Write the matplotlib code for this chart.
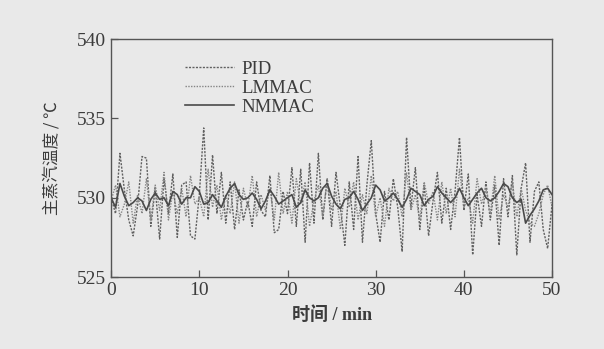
import numpy as np
import matplotlib
matplotlib.use("Agg")
import matplotlib.pyplot as plt

# 主蒸汽温度, 每 0.5 min 一个点
pid = [530.0, 529.0, 532.8, 530.5, 528.6, 527.6, 529.5, 532.6, 532.5, 528.2,
       530.6, 527.4, 531.2, 529.0, 531.5, 527.5, 530.8, 531.0, 527.6, 527.4,
       530.2, 534.4, 528.6, 532.7, 529.0, 531.6, 528.4, 531.0, 528.0, 530.5,
       528.6, 529.8, 528.2, 531.0, 529.2, 528.8, 531.4, 527.8, 528.0, 530.4,
       529.0, 531.9, 528.2, 531.8, 527.2, 532.2, 528.4, 532.8, 528.6, 531.2,
       528.2, 531.6, 529.4, 527.0, 531.0, 528.0, 532.6, 527.2, 530.8, 533.6,
       529.0, 527.2, 530.4, 528.6, 531.2, 529.4, 526.6, 533.8, 529.4, 531.9,
       528.0, 530.8, 527.6, 529.8, 531.6, 528.4, 530.6, 528.0, 530.4, 533.8,
       529.2, 531.5, 526.4, 530.2, 528.2, 531.0, 528.6, 530.8, 527.0, 531.2,
       528.8, 531.4, 526.4, 530.6, 532.2, 527.2, 530.4, 531.0, 528.0, 526.8,
       529.6]
lmmac = [529.8, 530.8, 528.8, 529.6, 531.0, 528.4, 530.2, 529.0, 531.2, 528.6,
         530.8, 529.2, 531.6, 528.6, 530.4, 529.0, 530.6, 528.8, 531.4, 529.6,
         530.0, 528.8, 531.8, 529.4, 530.8, 528.6, 530.2, 529.0, 531.0, 528.4,
         530.6, 529.4, 531.4, 528.8, 530.2, 529.2, 530.6, 528.6, 531.6, 529.0,
         530.4, 528.4, 531.2, 529.6, 531.0, 528.2, 529.8, 530.8, 528.8, 531.2,
         529.2, 530.4, 528.0, 530.6, 529.4, 531.0, 528.6, 530.2, 529.0, 531.4,
         528.8, 530.0, 528.2, 530.6, 529.8, 530.4, 528.8, 531.6, 529.2, 530.2,
         528.6, 531.0, 529.6, 530.4, 528.6, 531.0, 529.0, 530.6, 528.8, 531.8,
         529.4, 530.0, 528.4, 531.2, 529.6, 530.6, 529.0, 531.4, 528.6, 530.2,
         529.4, 531.0, 528.8, 530.6, 529.2, 528.4, 528.2, 529.0, 530.2, 530.8,
         529.4]
nmmac = [530.0, 529.4, 530.9, 530.1, 529.5, 529.7, 530.0, 529.8, 529.2, 529.9,
         530.3, 529.9, 530.0, 529.5, 530.4, 530.2, 529.6, 530.0, 530.0, 530.7,
         530.4, 529.6, 529.7, 530.2, 529.8, 529.4, 530.1, 530.6, 530.9, 530.2,
         529.9, 530.0, 530.3, 529.9, 529.3, 529.8, 530.5, 530.1, 529.6, 529.8,
         530.0, 530.2, 529.4, 529.7, 530.5, 530.0, 529.8, 530.0, 530.6, 530.9,
         530.1, 529.6, 529.3, 529.9, 530.0, 530.4, 529.9, 529.2, 529.6, 530.0,
         530.8, 530.5, 529.8, 530.0, 530.3, 529.9, 529.4, 529.9, 530.6, 530.4,
         530.2, 529.5, 529.9, 530.1, 530.7, 530.3, 530.0, 529.7, 530.0, 530.6,
         530.0, 529.5, 529.9, 530.3, 530.6, 530.0, 529.8, 530.0, 530.4, 530.9,
         530.7, 530.0, 529.7, 529.9, 528.4, 528.9, 529.3, 529.8, 530.5, 530.6,
         530.2]
xticks = [0, 10, 20, 30, 40, 50]
yticks = [525, 530, 535, 540]

t = np.linspace(0, 50, len(pid))

bg = "#e9e9e9"
ink = "#3c3c3c"
fig = plt.figure(figsize=(6.04, 3.49), dpi=100, facecolor=bg)
ax = fig.add_axes([0.184, 0.206, 0.73, 0.682], facecolor=bg)

ax.plot(t, pid, color="#606060", lw=1.0, ls=(0, (1.5, 1)), label="PID")
ax.plot(t, lmmac, color="#858585", lw=1.0, ls=(0, (1, 1)), label="LMMAC")
ax.plot(t, nmmac, color="#4a4a4a", lw=1.2, ls="-", label="NMMAC")

ax.set_xlim(0, 50)
ax.set_ylim(525, 540)
ax.set_xticks(xticks)
ax.set_yticks(yticks)
ax.tick_params(direction="in", length=5, width=0.9, colors="#555555",
               labelcolor=ink, labelsize=14)
for lab in ax.get_xticklabels() + ax.get_yticklabels():
    lab.set_family("Liberation Serif")
for sp in ax.spines.values():
    sp.set_color("#555555")
    sp.set_linewidth(1.0)

cjk = ["Liberation Serif", "Noto Sans CJK SC", "DejaVu Sans"]
ax.set_xlabel("时间 / min", family=cjk, fontsize=13, color=ink,
              fontweight="bold", labelpad=5)
ax.set_ylabel("主蒸汽温度 / ℃", family=["Noto Sans CJK SC", "DejaVu Sans"],
              fontsize=12, color=ink, fontweight="medium", labelpad=12)

leg = ax.legend(loc="upper left", bbox_to_anchor=(0.13, 0.98), frameon=False,
                handlelength=2.6, handletextpad=0.4, labelspacing=0.1,
                prop={"family": "Liberation Serif", "size": 13.5})
for txt in leg.get_texts():
    txt.set_color(ink)

fig.savefig("out.png", dpi=100, facecolor=bg)
